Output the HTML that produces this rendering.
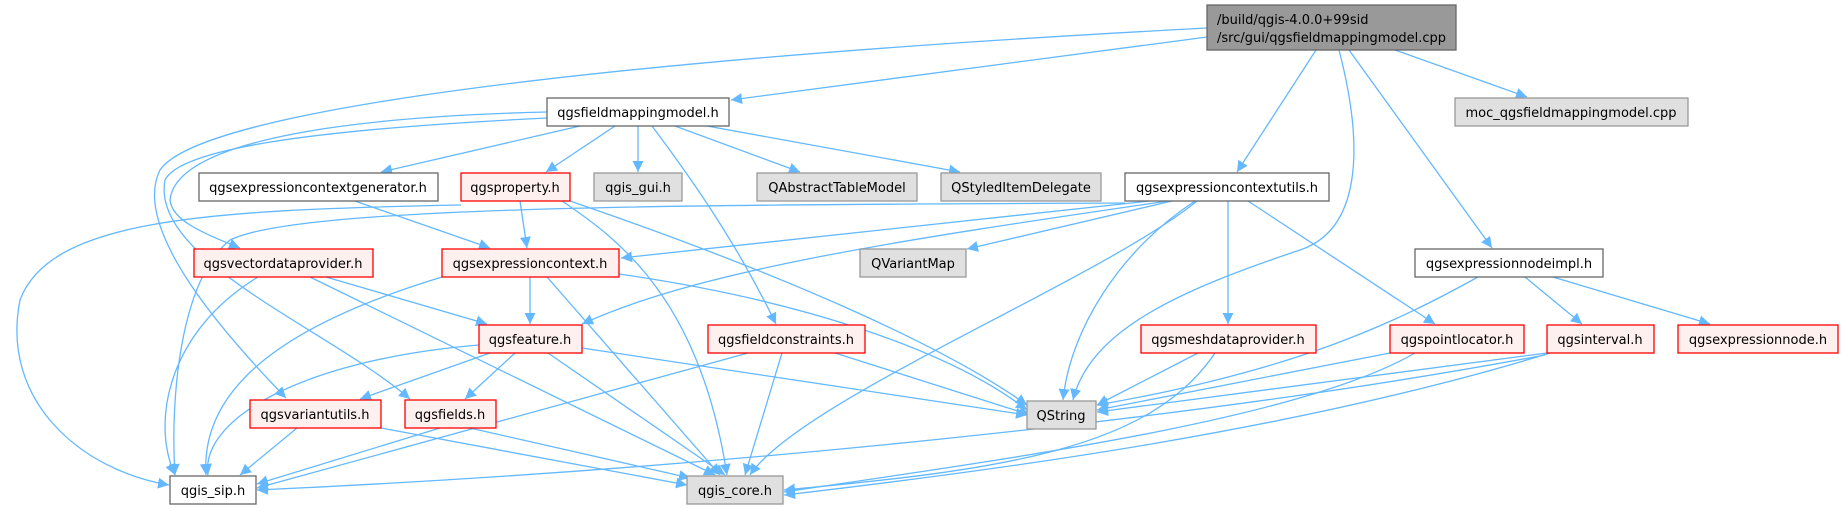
<!DOCTYPE html>
<html><head><meta charset="utf-8"><style>
html,body{margin:0;padding:0;background:#fff;}
svg{display:block;}
text{font-family:"DejaVu Sans","Liberation Sans",sans-serif;font-size:13px;fill:#000;}
.e{fill:none;stroke:#63b8ff;stroke-width:1.3;marker-end:url(#a);}
.w{fill:#fff;stroke:#666;stroke-width:1.3;}
.r{fill:#fff0f0;stroke:#ff0000;stroke-width:1.3;}
.g{fill:#e0e0e0;stroke:#999;stroke-width:1.3;}
.t{fill:#999;stroke:#666;stroke-width:1.3;}
</style></head><body>
<svg width="1844" height="509" viewBox="0 0 1844 509" xmlns="http://www.w3.org/2000/svg">
<defs><marker id="a" viewBox="0 0 10 10" refX="10" refY="5" markerWidth="11" markerHeight="11" markerUnits="userSpaceOnUse" orient="auto"><path d="M0,0 L10,5 L0,10 z" fill="#63b8ff"/></marker></defs>
<g>
<path class="e" d="M1207,37 L731,100"/>
<path class="e" d="M1207,28 C600,60 200,110 160,170 C130,230 230,340 286,398"/>
<path class="e" d="M1339,50 C1365,150 1360,230 1300,250 C1180,290 1090,330 1073,400"/>
<path class="e" d="M1316,50 L1237,172"/>
<path class="e" d="M1349,50 L1492,248"/>
<path class="e" d="M1395,50 L1527,97"/>
<path class="e" d="M580,126 L381,172"/>
<path class="e" d="M615,126 L546,172"/>
<path class="e" d="M638,126 L638,172"/>
<path class="e" d="M675,126 L800,172"/>
<path class="e" d="M707,126 L960,172"/>
<path class="e" d="M652,126 C700,190 740,250 776,324"/>
<path class="e" d="M547,112 C300,118 175,150 170,200 C172,220 200,232 240,248"/>
<path class="e" d="M547,118 C300,130 180,150 165,180 C150,260 330,330 410,399"/>
<path class="e" d="M520,201 L527,248"/>
<path class="e" d="M461,205 C200,210 50,220 20,300 C0,400 80,470 169,485"/>
<path class="e" d="M562,201 C620,240 700,300 727,475"/>
<path class="e" d="M570,201 C800,280 950,350 1027,405"/>
<path class="e" d="M355,201 L490,248"/>
<path class="e" d="M1150,201 L621,258"/>
<path class="e" d="M1168,201 C900,240 700,270 582,324"/>
<path class="e" d="M1172,201 L967,249"/>
<path class="e" d="M1125,203 C700,205 300,205 230,240 C180,280 170,400 175,475"/>
<path class="e" d="M1197,201 C1100,280 800,400 750,475"/>
<path class="e" d="M1195,201 C1120,250 1070,330 1063,400"/>
<path class="e" d="M1228,201 L1228,324"/>
<path class="e" d="M1248,201 L1435,324"/>
<path class="e" d="M1478,277 C1400,320 1300,370 1097,405"/>
<path class="e" d="M1525,277 L1582,324"/>
<path class="e" d="M1553,277 L1710,324"/>
<path class="e" d="M326,277 L487,324"/>
<path class="e" d="M310,277 L715,475"/>
<path class="e" d="M258,277 C170,330 150,420 175,475"/>
<path class="e" d="M530,277 L530,324"/>
<path class="e" d="M442,277 C300,320 200,380 206,475"/>
<path class="e" d="M547,277 L720,475"/>
<path class="e" d="M619,274 C800,300 950,350 1027,410"/>
<path class="e" d="M490,353 L360,399"/>
<path class="e" d="M515,353 L465,399"/>
<path class="e" d="M479,345 C300,360 200,420 208,475"/>
<path class="e" d="M548,353 L725,475"/>
<path class="e" d="M582,348 L1027,415"/>
<path class="e" d="M748,353 L257,488"/>
<path class="e" d="M782,353 L745,475"/>
<path class="e" d="M835,353 L1030,415"/>
<path class="e" d="M297,428 L240,475"/>
<path class="e" d="M381,428 L687,485"/>
<path class="e" d="M440,428 L257,484"/>
<path class="e" d="M470,428 L690,478"/>
<path class="e" d="M1198,353 L1097,405"/>
<path class="e" d="M1215,353 C1150,450 1000,470 784,490"/>
<path class="e" d="M1390,353 L1097,410"/>
<path class="e" d="M1415,353 C1300,420 1000,460 784,492"/>
<path class="e" d="M1547,353 L1097,412"/>
<path class="e" d="M1550,353 C1300,430 1000,470 784,495"/>
<path class="e" d="M1545,355 C1200,420 700,470 257,490"/>
</g>
<g>
<rect class="t" x="1207" y="5" width="249" height="45"/>
<text x="1217" y="24">/build/qgis-4.0.0+99sid</text>
<text x="1217" y="42">/src/gui/qgsfieldmappingmodel.cpp</text>
<rect class="w" x="547" y="98" width="182" height="28"/><text x="638" y="117" text-anchor="middle">qgsfieldmappingmodel.h</text>
<rect class="g" x="1455" y="98" width="233" height="28"/><text x="1571" y="117" text-anchor="middle">moc_qgsfieldmappingmodel.cpp</text>
<rect class="w" x="199" y="173" width="239" height="28"/><text x="318" y="192" text-anchor="middle">qgsexpressioncontextgenerator.h</text>
<rect class="r" x="461" y="173" width="109" height="28"/><text x="515" y="192" text-anchor="middle">qgsproperty.h</text>
<rect class="g" x="594" y="173" width="88" height="28"/><text x="638" y="192" text-anchor="middle">qgis_gui.h</text>
<rect class="g" x="757" y="173" width="160" height="28"/><text x="837" y="192" text-anchor="middle">QAbstractTableModel</text>
<rect class="g" x="941" y="173" width="160" height="28"/><text x="1021" y="192" text-anchor="middle">QStyledItemDelegate</text>
<rect class="w" x="1125" y="173" width="204" height="28"/><text x="1227" y="192" text-anchor="middle">qgsexpressioncontextutils.h</text>
<rect class="r" x="194" y="249" width="179" height="28"/><text x="283" y="268" text-anchor="middle">qgsvectordataprovider.h</text>
<rect class="r" x="442" y="249" width="177" height="28"/><text x="530" y="268" text-anchor="middle">qgsexpressioncontext.h</text>
<rect class="g" x="860" y="249" width="106" height="28"/><text x="913" y="268" text-anchor="middle">QVariantMap</text>
<rect class="w" x="1415" y="249" width="188" height="28"/><text x="1509" y="268" text-anchor="middle">qgsexpressionnodeimpl.h</text>
<rect class="r" x="479" y="325" width="103" height="28"/><text x="530" y="344" text-anchor="middle">qgsfeature.h</text>
<rect class="r" x="708" y="325" width="157" height="28"/><text x="786" y="344" text-anchor="middle">qgsfieldconstraints.h</text>
<rect class="r" x="1141" y="325" width="175" height="28"/><text x="1228" y="344" text-anchor="middle">qgsmeshdataprovider.h</text>
<rect class="r" x="1390" y="325" width="134" height="28"/><text x="1457" y="344" text-anchor="middle">qgspointlocator.h</text>
<rect class="r" x="1547" y="325" width="107" height="28"/><text x="1600" y="344" text-anchor="middle">qgsinterval.h</text>
<rect class="r" x="1678" y="325" width="160" height="28"/><text x="1758" y="344" text-anchor="middle">qgsexpressionnode.h</text>
<rect class="r" x="250" y="400" width="131" height="28"/><text x="315" y="419" text-anchor="middle">qgsvariantutils.h</text>
<rect class="r" x="405" y="400" width="91" height="28"/><text x="450" y="419" text-anchor="middle">qgsfields.h</text>
<rect class="g" x="1027" y="401" width="69" height="28"/><text x="1061" y="420" text-anchor="middle">QString</text>
<rect class="w" x="170" y="476" width="86" height="28"/><text x="213" y="495" text-anchor="middle">qgis_sip.h</text>
<rect class="g" x="687" y="476" width="96" height="28"/><text x="735" y="495" text-anchor="middle">qgis_core.h</text>
</g>
</svg>
</body></html>
